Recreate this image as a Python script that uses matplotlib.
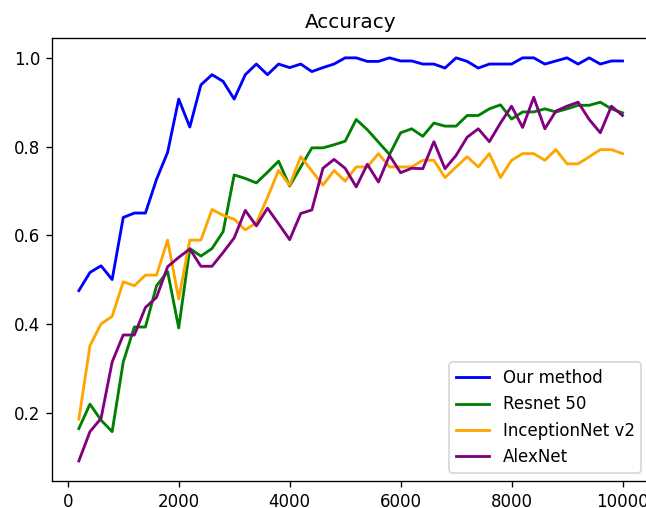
import numpy as np
import matplotlib
matplotlib.use("Agg")
import matplotlib.pyplot as plt

# Training iterations (every 200 steps)
steps = list(range(200, 10001, 200))

our_method = [0.475, 0.516, 0.531, 0.500, 0.640, 0.650, 0.650, 0.726, 0.787, 0.907,
              0.844, 0.939, 0.962, 0.947, 0.907, 0.962, 0.986, 0.962, 0.986, 0.978,
              0.986, 0.969, 0.978, 0.986, 1.000, 1.000, 0.992, 0.992, 1.000, 0.993,
              0.993, 0.986, 0.986, 0.977, 1.000, 0.992, 0.977, 0.986, 0.986, 0.986,
              1.000, 1.000, 0.986, 0.993, 1.000, 0.986, 1.000, 0.986, 0.993, 0.993]

resnet50 = [0.164, 0.219, 0.183, 0.157, 0.314, 0.393, 0.393, 0.486, 0.518, 0.391,
            0.570, 0.553, 0.570, 0.608, 0.736, 0.728, 0.718, 0.742, 0.767, 0.711,
            0.754, 0.797, 0.797, 0.804, 0.812, 0.861, 0.838, 0.810, 0.782, 0.831,
            0.840, 0.823, 0.853, 0.846, 0.846, 0.870, 0.870, 0.885, 0.894, 0.862,
            0.878, 0.878, 0.885, 0.878, 0.885, 0.893, 0.893, 0.900, 0.885, 0.876]

inception_v2 = [0.185, 0.351, 0.400, 0.417, 0.495, 0.486, 0.510, 0.510, 0.589, 0.456,
                0.589, 0.589, 0.658, 0.645, 0.636, 0.612, 0.628, 0.685, 0.746, 0.713,
                0.777, 0.745, 0.713, 0.746, 0.722, 0.754, 0.754, 0.784, 0.754, 0.754,
                0.754, 0.769, 0.769, 0.730, 0.754, 0.777, 0.754, 0.784, 0.730, 0.769,
                0.784, 0.784, 0.769, 0.793, 0.761, 0.761, 0.777, 0.793, 0.793, 0.784]

alexnet = [0.091, 0.157, 0.187, 0.314, 0.375, 0.375, 0.437, 0.460, 0.529, 0.550,
           0.569, 0.530, 0.530, 0.561, 0.594, 0.656, 0.621, 0.661, 0.626, 0.590,
           0.649, 0.657, 0.751, 0.771, 0.751, 0.709, 0.760, 0.720, 0.780, 0.741,
           0.751, 0.750, 0.811, 0.750, 0.780, 0.821, 0.840, 0.811, 0.853, 0.891,
           0.843, 0.911, 0.840, 0.880, 0.891, 0.900, 0.861, 0.831, 0.891, 0.870]

series = [
    ("Our method", our_method, "blue"),
    ("Resnet 50", resnet50, "green"),
    ("InceptionNet v2", inception_v2, "orange"),
    ("AlexNet", alexnet, "purple"),
]

fig = plt.figure(figsize=(646 / 120, 508 / 120), dpi=120)
ax = fig.add_axes([0.080, 0.0530, 0.9257, 0.8728])

for label, values, color in series:
    ax.plot(steps, values, color=color, label=label, linewidth=1.7)

ax.set_title("Accuracy")
ax.legend(loc="lower right")

fig.savefig("out.png", dpi=120)
